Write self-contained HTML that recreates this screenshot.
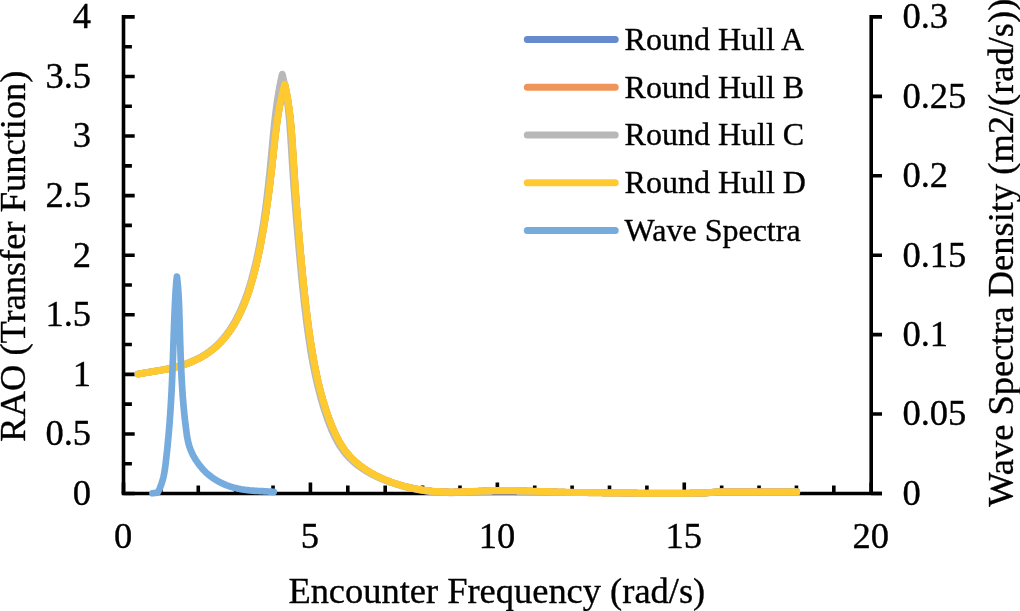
<!DOCTYPE html>
<html lang="en"><head><meta charset="utf-8"><title>RAO and Wave Spectra</title>
<style>html,body{margin:0;padding:0;background:#fff}svg{display:block}text{font-family:"Liberation Serif","Times New Roman",Times,serif;fill:#000;stroke:#000;stroke-width:0.35px}</style></head><body>
<svg width="1020" height="611" viewBox="0 0 1020 611">
<rect width="1020" height="611" fill="#fff"/>
<g stroke="#000" stroke-width="3.6" fill="none" stroke-linecap="butt">
<path d="M123.5,15.1 V493.5"/>
<path d="M871.2,15.1 V493.5"/>
<path d="M121.7,493.5 H882.0"/>
<path d="M123.5,493.50 h11.2 M123.5,463.71 h8.4 M123.5,433.93 h11.2 M123.5,404.14 h8.4 M123.5,374.35 h11.2 M123.5,344.56 h8.4 M123.5,314.77 h11.2 M123.5,284.99 h8.4 M123.5,255.20 h11.2 M123.5,225.41 h8.4 M123.5,195.62 h11.2 M123.5,165.84 h8.4 M123.5,136.05 h11.2 M123.5,106.26 h8.4 M123.5,76.47 h11.2 M123.5,46.69 h8.4 M123.5,16.90 h11.2 M871.2,493.50 h10.8 M871.2,414.07 h10.8 M871.2,334.63 h10.8 M871.2,255.20 h10.8 M871.2,175.77 h10.8 M871.2,96.33 h10.8 M871.2,16.90 h10.8 M123.50,493.5 v-11.0 M160.88,493.5 v-8.0 M198.27,493.5 v-8.0 M235.66,493.5 v-8.0 M273.04,493.5 v-8.0 M310.43,493.5 v-11.0 M347.81,493.5 v-8.0 M385.20,493.5 v-8.0 M422.58,493.5 v-8.0 M459.97,493.5 v-8.0 M497.35,493.5 v-11.0 M534.74,493.5 v-8.0 M572.12,493.5 v-8.0 M609.50,493.5 v-8.0 M646.89,493.5 v-8.0 M684.27,493.5 v-11.0 M721.66,493.5 v-8.0 M759.05,493.5 v-8.0 M796.43,493.5 v-8.0 M833.82,493.5 v-8.0 M871.20,493.5 v-11.0"/>
</g>
<g font-size="36.5" text-anchor="end">
<text x="91" y="504.8">0</text>
<text x="91" y="445.2">0.5</text>
<text x="91" y="385.7">1</text>
<text x="91" y="326.1">1.5</text>
<text x="91" y="266.5">2</text>
<text x="91" y="206.9">2.5</text>
<text x="91" y="147.3">3</text>
<text x="91" y="87.8">3.5</text>
<text x="91" y="28.2">4</text>
</g>
<g font-size="36.5" text-anchor="start">
<text x="902.4" y="504.8">0</text>
<text x="902.4" y="425.4">0.05</text>
<text x="902.4" y="345.9">0.1</text>
<text x="902.4" y="266.5">0.15</text>
<text x="902.4" y="187.1">0.2</text>
<text x="902.4" y="107.6">0.25</text>
<text x="902.4" y="28.2">0.3</text>
</g>
<g font-size="36.5" text-anchor="middle">
<text x="123.0" y="547.9">0</text>
<text x="309.9" y="547.9">5</text>
<text x="496.9" y="547.9">10</text>
<text x="683.8" y="547.9">15</text>
<text x="870.7" y="547.9">20</text>
</g>
<text font-size="36.45" text-anchor="middle" x="496.8" y="603">Encounter Frequency (rad/s)</text>
<text font-size="36.45" text-anchor="middle" transform="translate(25.3,256.1) rotate(-90)">RAO (Transfer Function)</text>
<text font-size="36.45" text-anchor="middle" transform="translate(1012.8,252.7) rotate(-90)">Wave Spectra Density (m2/(rad/s))</text>
<g fill="none" stroke-linecap="round" stroke-linejoin="round">
<path stroke="#668ACE" stroke-width="6.6" d="M138.5,374.0 L139.6,373.8 L140.8,373.6 L142.0,373.4 L143.2,373.2 L144.4,373.0 L145.6,372.8 L146.8,372.6 L148.0,372.4 L149.2,372.2 L150.3,372.0 L151.5,371.8 L152.7,371.6 L153.9,371.4 L155.1,371.2 L156.3,371.0 L157.5,370.8 L158.6,370.6 L159.8,370.4 L161.0,370.2 L162.2,370.0 L163.4,369.8 L164.5,369.6 L165.7,369.4 L166.9,369.1 L168.1,368.9 L169.2,368.7 L170.4,368.4 L171.6,368.1 L172.8,367.9 L173.9,367.6 L175.1,367.3 L176.3,367.0 L177.4,366.7 L178.6,366.4 L179.8,366.0 L180.9,365.7 L182.1,365.3 L183.2,365.0 L184.4,364.6 L185.6,364.2 L186.7,363.8 L187.9,363.3 L189.0,362.9 L190.1,362.5 L191.3,362.0 L192.4,361.5 L193.5,361.0 L194.6,360.5 L195.7,360.0 L196.8,359.5 L197.9,359.0 L199.0,358.4 L200.1,357.9 L201.1,357.3 L202.2,356.7 L203.3,356.1 L204.3,355.5 L205.3,354.8 L206.3,354.2 L207.3,353.5 L208.3,352.8 L209.3,352.2 L210.3,351.5 L211.3,350.7 L212.2,350.0 L213.1,349.3 L214.1,348.5 L215.0,347.7 L215.9,347.0 L216.8,346.2 L217.6,345.4 L218.5,344.5 L219.3,343.7 L220.2,342.9 L221.0,342.0 L221.8,341.1 L222.6,340.2 L223.4,339.4 L224.2,338.5 L224.9,337.5 L225.7,336.6 L226.4,335.7 L227.2,334.7 L227.9,333.8 L228.6,332.8 L229.3,331.8 L230.0,330.9 L230.7,329.9 L231.4,328.9 L232.0,327.9 L232.7,326.9 L233.3,325.8 L234.0,324.8 L234.6,323.8 L235.2,322.7 L235.8,321.7 L236.4,320.6 L237.0,319.6 L237.5,318.5 L238.1,317.4 L238.7,316.3 L239.2,315.2 L239.8,314.1 L240.3,313.0 L240.8,311.9 L241.3,310.8 L241.8,309.7 L242.3,308.6 L242.8,307.5 L243.3,306.4 L243.8,305.2 L244.2,304.1 L244.7,303.0 L245.1,301.8 L245.6,300.7 L246.0,299.6 L246.4,298.4 L246.9,297.3 L247.3,296.1 L247.7,295.0 L248.1,293.9 L248.5,292.7 L248.9,291.6 L249.2,290.4 L249.6,289.3 L250.0,288.1 L250.3,287.0 L250.7,285.8 L251.0,284.7 L251.4,283.5 L251.7,282.4 L252.0,281.2 L252.4,280.1 L252.7,278.9 L253.0,277.8 L253.3,276.6 L253.6,275.5 L253.9,274.3 L254.3,273.2 L254.6,272.0 L254.8,270.9 L255.1,269.7 L255.4,268.5 L255.7,267.4 L256.0,266.2 L256.3,265.0 L256.6,263.9 L256.8,262.7 L257.1,261.5 L257.4,260.4 L257.7,259.2 L257.9,258.0 L258.2,256.8 L258.4,255.7 L258.7,254.5 L258.9,253.3 L259.2,252.1 L259.4,250.9 L259.7,249.8 L259.9,248.6 L260.1,247.4 L260.4,246.2 L260.6,245.0 L260.8,243.8 L261.1,242.7 L261.3,241.5 L261.5,240.3 L261.7,239.1 L261.9,237.9 L262.1,236.7 L262.4,235.5 L262.6,234.3 L262.8,233.2 L263.0,232.0 L263.2,230.8 L263.4,229.6 L263.6,228.4 L263.8,227.2 L264.0,226.0 L264.2,224.8 L264.4,223.6 L264.6,222.4 L264.8,221.3 L265.0,220.1 L265.1,218.9 L265.3,217.7 L265.5,216.5 L265.7,215.3 L265.9,214.1 L266.1,212.9 L266.2,211.7 L266.4,210.5 L266.6,209.3 L266.8,208.1 L266.9,207.0 L267.1,205.8 L267.3,204.6 L267.5,203.4 L267.6,202.2 L267.8,201.0 L268.0,199.8 L268.1,198.6 L268.3,197.4 L268.4,196.2 L268.6,195.0 L268.8,193.8 L268.9,192.6 L269.1,191.4 L269.2,190.2 L269.4,189.0 L269.5,187.8 L269.7,186.6 L269.8,185.5 L270.0,184.3 L270.1,183.1 L270.3,181.9 L270.4,180.7 L270.6,179.5 L270.7,178.3 L270.8,177.1 L271.0,175.9 L271.1,174.7 L271.3,173.5 L271.4,172.3 L271.5,171.1 L271.7,169.9 L271.8,168.7 L271.9,167.5 L272.1,166.3 L272.2,165.1 L272.3,163.9 L272.5,162.7 L272.6,161.5 L272.7,160.3 L272.8,159.1 L273.0,157.9 L273.1,156.7 L273.2,155.5 L273.4,154.3 L273.5,153.1 L273.6,151.9 L273.7,150.7 L273.9,149.5 L274.0,148.3 L274.1,147.1 L274.2,145.9 L274.4,144.7 L274.5,143.5 L274.6,142.3 L274.8,141.1 L274.9,139.9 L275.0,138.7 L275.2,137.5 L275.3,136.3 L275.5,135.1 L275.6,133.9 L275.7,132.7 L275.9,131.5 L276.0,130.3 L276.2,129.1 L276.3,127.9 L276.5,126.7 L276.7,125.5 L276.8,124.4 L277.0,123.2 L277.1,122.0 L277.3,120.8 L277.5,119.6 L277.7,118.4 L277.8,117.2 L278.0,116.0 L278.2,114.8 L278.4,113.6 L278.6,112.4 L278.8,111.3 L279.0,110.1 L279.2,108.9 L279.4,107.7 L279.6,106.5 L279.9,105.3 L280.1,104.2 L280.3,103.0 L280.6,101.8 L280.8,100.6 L281.0,99.4 L281.3,98.3 L281.6,97.1 L281.8,95.9 L282.1,94.7 L282.4,93.6 L282.6,92.4 L282.9,91.2 L283.2,90.0 L283.5,88.9 L283.8,87.7 L284.2,86.5 L284.5,85.4 L284.8,84.2 L285.1,85.4 L285.3,86.6 L285.6,87.7 L285.8,88.9 L286.1,90.1 L286.3,91.3 L286.5,92.5 L286.8,93.6 L287.0,94.8 L287.2,96.0 L287.4,97.2 L287.6,98.4 L287.8,99.6 L288.0,100.7 L288.2,101.9 L288.4,103.1 L288.6,104.3 L288.7,105.5 L288.9,106.7 L289.1,107.9 L289.2,109.1 L289.4,110.3 L289.5,111.5 L289.7,112.6 L289.8,113.8 L290.0,115.0 L290.1,116.2 L290.2,117.4 L290.4,118.6 L290.5,119.8 L290.6,121.0 L290.7,122.2 L290.8,123.4 L291.0,124.6 L291.1,125.8 L291.2,127.0 L291.3,128.2 L291.4,129.4 L291.5,130.6 L291.6,131.8 L291.7,133.0 L291.8,134.2 L291.9,135.4 L291.9,136.6 L292.0,137.8 L292.1,139.0 L292.2,140.2 L292.3,141.4 L292.4,142.6 L292.5,143.8 L292.5,145.0 L292.6,146.2 L292.7,147.4 L292.8,148.6 L292.8,149.8 L292.9,151.0 L293.0,152.2 L293.1,153.4 L293.1,154.6 L293.2,155.8 L293.3,157.0 L293.4,158.2 L293.4,159.4 L293.5,160.6 L293.6,161.8 L293.7,163.0 L293.7,164.2 L293.8,165.4 L293.9,166.6 L294.0,167.8 L294.0,169.0 L294.1,170.2 L294.2,171.4 L294.3,172.6 L294.4,173.8 L294.4,175.0 L294.5,176.2 L294.6,177.4 L294.7,178.6 L294.8,179.8 L294.9,181.0 L294.9,182.2 L295.0,183.4 L295.1,184.6 L295.2,185.8 L295.3,187.0 L295.4,188.2 L295.5,189.4 L295.5,190.6 L295.6,191.8 L295.7,193.0 L295.8,194.2 L295.9,195.4 L296.0,196.6 L296.1,197.8 L296.2,199.0 L296.3,200.2 L296.3,201.4 L296.4,202.6 L296.5,203.8 L296.6,205.0 L296.7,206.2 L296.8,207.4 L296.9,208.6 L297.0,209.8 L297.1,211.0 L297.2,212.2 L297.3,213.4 L297.4,214.6 L297.5,215.8 L297.6,217.0 L297.7,218.2 L297.8,219.4 L297.9,220.6 L298.0,221.8 L298.1,223.0 L298.2,224.2 L298.3,225.4 L298.4,226.6 L298.5,227.8 L298.6,229.0 L298.7,230.2 L298.8,231.4 L298.9,232.6 L299.0,233.8 L299.1,235.0 L299.2,236.2 L299.3,237.4 L299.4,238.6 L299.5,239.8 L299.6,241.0 L299.7,242.1 L299.8,243.3 L299.9,244.5 L300.0,245.7 L300.1,246.9 L300.2,248.1 L300.3,249.3 L300.4,250.5 L300.5,251.7 L300.6,252.9 L300.7,254.1 L300.9,255.3 L301.0,256.5 L301.1,257.7 L301.2,258.9 L301.3,260.1 L301.4,261.3 L301.5,262.5 L301.6,263.7 L301.7,264.9 L301.9,266.1 L302.0,267.3 L302.1,268.5 L302.2,269.7 L302.3,270.9 L302.4,272.1 L302.5,273.3 L302.7,274.5 L302.8,275.7 L302.9,276.9 L303.0,278.1 L303.1,279.3 L303.2,280.5 L303.4,281.7 L303.5,282.9 L303.6,284.1 L303.7,285.3 L303.9,286.4 L304.0,287.6 L304.1,288.8 L304.2,290.0 L304.4,291.2 L304.5,292.4 L304.6,293.6 L304.7,294.8 L304.9,296.0 L305.0,297.2 L305.1,298.4 L305.3,299.6 L305.4,300.8 L305.5,302.0 L305.7,303.2 L305.8,304.4 L305.9,305.6 L306.1,306.8 L306.2,308.0 L306.4,309.2 L306.5,310.4 L306.6,311.6 L306.8,312.7 L306.9,313.9 L307.1,315.1 L307.2,316.3 L307.4,317.5 L307.5,318.7 L307.7,319.9 L307.8,321.1 L308.0,322.3 L308.1,323.5 L308.3,324.7 L308.4,325.9 L308.6,327.1 L308.8,328.3 L308.9,329.5 L309.1,330.6 L309.3,331.8 L309.4,333.0 L309.6,334.2 L309.8,335.4 L309.9,336.6 L310.1,337.8 L310.3,339.0 L310.5,340.2 L310.6,341.4 L310.8,342.6 L311.0,343.7 L311.2,344.9 L311.4,346.1 L311.6,347.3 L311.8,348.5 L312.0,349.7 L312.2,350.9 L312.3,352.0 L312.6,353.2 L312.8,354.4 L313.0,355.6 L313.2,356.8 L313.4,358.0 L313.6,359.2 L313.8,360.3 L314.0,361.5 L314.2,362.7 L314.5,363.9 L314.7,365.1 L314.9,366.2 L315.2,367.4 L315.4,368.6 L315.6,369.8 L315.9,371.0 L316.1,372.1 L316.4,373.3 L316.6,374.5 L316.9,375.7 L317.1,376.8 L317.4,378.0 L317.6,379.2 L317.9,380.3 L318.2,381.5 L318.4,382.7 L318.7,383.9 L319.0,385.0 L319.3,386.2 L319.6,387.4 L319.9,388.5 L320.2,389.7 L320.5,390.8 L320.8,392.0 L321.1,393.2 L321.4,394.3 L321.7,395.5 L322.0,396.6 L322.4,397.8 L322.7,399.0 L323.0,400.1 L323.4,401.3 L323.7,402.4 L324.1,403.6 L324.4,404.7 L324.8,405.9 L325.1,407.0 L325.5,408.2 L325.9,409.3 L326.2,410.5 L326.6,411.6 L327.0,412.7 L327.4,413.9 L327.8,415.0 L328.2,416.2 L328.6,417.3 L329.0,418.4 L329.4,419.6 L329.9,420.7 L330.3,421.8 L330.7,423.0 L331.2,424.1 L331.6,425.2 L332.1,426.3 L332.5,427.5 L333.0,428.6 L333.5,429.7 L334.0,430.8 L334.5,431.9 L335.0,433.0 L335.5,434.1 L336.0,435.2 L336.5,436.3 L337.1,437.3 L337.6,438.4 L338.2,439.5 L338.8,440.5 L339.3,441.6 L339.9,442.6 L340.6,443.6 L341.2,444.6 L341.8,445.7 L342.5,446.7 L343.1,447.7 L343.8,448.6 L344.5,449.6 L345.2,450.6 L345.9,451.5 L346.7,452.5 L347.4,453.4 L348.2,454.3 L349.0,455.2 L349.8,456.1 L350.6,457.0 L351.4,457.8 L352.2,458.7 L353.1,459.5 L354.0,460.4 L354.8,461.2 L355.7,462.0 L356.6,462.8 L357.6,463.5 L358.5,464.3 L359.4,465.1 L360.4,465.8 L361.4,466.5 L362.3,467.2 L363.3,467.9 L364.3,468.6 L365.3,469.3 L366.3,469.9 L367.4,470.6 L368.4,471.2 L369.4,471.8 L370.5,472.5 L371.5,473.1 L372.6,473.7 L373.6,474.2 L374.7,474.8 L375.7,475.4 L376.8,475.9 L377.9,476.4 L379.0,477.0 L380.1,477.5 L381.2,478.0 L382.3,478.5 L383.4,479.0 L384.5,479.4 L385.6,479.9 L386.7,480.4 L387.9,480.8 L389.0,481.2 L390.1,481.7 L391.2,482.1 L392.4,482.5 L393.5,482.9 L394.7,483.3 L395.8,483.7 L397.0,484.0 L398.1,484.4 L399.3,484.7 L400.4,485.1 L401.6,485.4 L402.7,485.8 L403.9,486.1 L405.1,486.4 L406.2,486.7 L407.4,487.0 L408.6,487.3 L409.7,487.5 L410.9,487.8 L412.1,488.1 L413.3,488.3 L414.4,488.6 L415.6,488.8 L416.8,489.0 L418.0,489.2 L419.2,489.4 L420.3,489.6 L421.5,489.8 L422.7,490.0 L423.9,490.2 L425.1,490.3 L426.3,490.5 L427.5,490.6 L428.7,490.8 L429.8,490.9 L431.0,491.0 L432.2,491.2 L433.4,491.3 L434.6,491.4 L435.8,491.5 L437.0,491.5 L438.2,491.6 L439.4,491.7 L440.6,491.7 L441.8,491.8 L443.0,491.8 L444.2,491.9 L445.4,491.9 L446.6,491.9 L447.8,491.9 L449.0,492.0 L450.2,492.0 L451.4,492.0 L452.6,492.0 L453.8,492.0 L455.0,491.9 L456.2,491.9 L457.4,491.9 L458.6,491.9 L459.8,491.9 L461.0,491.8 L462.2,491.8 L463.4,491.8 L464.6,491.7 L465.8,491.7 L467.0,491.6 L468.2,491.6 L469.4,491.5 L470.6,491.5 L471.9,491.4 L473.1,491.4 L474.3,491.3 L475.5,491.3 L476.7,491.2 L477.9,491.2 L479.1,491.1 L480.3,491.1 L481.5,491.0 L482.7,491.0 L483.9,490.9 L485.1,490.9 L486.3,490.8 L487.5,490.8 L488.7,490.7 L489.9,490.7 L491.1,490.7 L492.3,490.6 L493.5,490.6 L494.7,490.6 L496.0,490.5 L497.2,490.5 L498.4,490.5 L499.6,490.5 L500.8,490.5 L502.0,490.5 L503.2,490.5 L504.4,490.5 L505.6,490.5 L506.8,490.5 L508.0,490.5 L509.2,490.5 L510.4,490.5 L511.6,490.5 L512.8,490.6 L514.0,490.6 L515.2,490.6 L516.4,490.6 L517.6,490.7 L518.8,490.7 L520.0,490.7 L521.2,490.8 L522.4,490.8 L523.6,490.8 L524.8,490.9 L526.0,490.9 L527.2,491.0 L528.4,491.0 L529.6,491.0 L530.8,491.1 L532.0,491.1 L533.2,491.2 L534.4,491.2 L535.6,491.3 L536.8,491.3 L538.0,491.3 L539.2,491.4 L540.4,491.4 L541.6,491.5 L542.8,491.5 L544.0,491.6 L545.2,491.6 L546.4,491.6 L547.6,491.7 L548.8,491.7 L550.0,491.7 L551.2,491.8 L552.4,491.8 L553.6,491.9 L554.9,491.9 L556.1,491.9 L557.3,492.0 L558.5,492.0 L559.7,492.0 L560.9,492.1 L562.1,492.1 L563.3,492.1 L564.5,492.1 L565.7,492.2 L566.9,492.2 L568.1,492.2 L569.3,492.3 L570.5,492.3 L571.7,492.3 L572.9,492.3 L574.1,492.4 L575.3,492.4 L576.5,492.4 L577.7,492.5 L578.9,492.5 L580.1,492.5 L581.3,492.5 L582.5,492.5 L583.7,492.6 L584.9,492.6 L586.1,492.6 L587.3,492.6 L588.5,492.7 L589.7,492.7 L590.9,492.7 L592.1,492.7 L593.3,492.7 L594.5,492.7 L595.7,492.8 L596.9,492.8 L598.1,492.8 L599.3,492.8 L600.5,492.8 L601.8,492.8 L603.0,492.9 L604.2,492.9 L605.4,492.9 L606.6,492.9 L607.8,492.9 L609.0,492.9 L610.2,492.9 L611.4,493.0 L612.6,493.0 L613.8,493.0 L615.0,493.0 L616.2,493.0 L617.4,493.0 L618.6,493.0 L619.8,493.0 L621.0,493.0 L622.2,493.1 L623.4,493.1 L624.6,493.1 L625.8,493.1 L627.0,493.1 L628.2,493.1 L629.4,493.1 L630.6,493.1 L631.8,493.1 L633.0,493.1 L634.2,493.1 L635.4,493.1 L636.6,493.1 L637.8,493.2 L639.0,493.2 L640.3,493.2 L641.5,493.2 L642.7,493.2 L643.9,493.2 L645.1,493.2 L646.3,493.2 L647.5,493.2 L648.7,493.2 L649.9,493.2 L651.1,493.2 L652.3,493.2 L653.5,493.2 L654.7,493.2 L655.9,493.2 L657.1,493.2 L658.3,493.2 L659.5,493.2 L660.7,493.2 L661.9,493.2 L663.1,493.2 L664.3,493.2 L665.5,493.2 L666.7,493.2 L667.9,493.2 L669.1,493.2 L670.3,493.2 L671.5,493.2 L672.7,493.2 L673.9,493.2 L675.1,493.2 L676.3,493.2 L677.5,493.2 L678.7,493.2 L680.0,493.2 L681.2,493.2 L682.4,493.2 L683.6,493.2 L684.8,493.2 L686.0,493.2 L687.2,493.2 L688.4,493.2 L689.6,493.2 L690.8,493.1 L692.0,493.1 L693.2,493.1 L694.4,493.1 L695.6,493.1 L696.8,493.1 L698.0,493.1 L699.2,493.1 L700.4,493.1 L701.6,493.1 L702.8,493.1 L704.0,493.1 L717.0,491.9 L751.0,491.9 L796.7,491.9"/>
<path stroke="#F0955A" stroke-width="6.6" d="M138.5,374.0 L139.6,373.8 L140.8,373.6 L142.0,373.4 L143.2,373.2 L144.4,373.0 L145.6,372.8 L146.8,372.6 L148.0,372.4 L149.2,372.2 L150.3,372.0 L151.5,371.8 L152.7,371.6 L153.9,371.4 L155.1,371.2 L156.3,371.0 L157.5,370.8 L158.6,370.6 L159.8,370.4 L161.0,370.2 L162.2,370.0 L163.4,369.8 L164.5,369.6 L165.7,369.4 L166.9,369.1 L168.1,368.9 L169.2,368.7 L170.4,368.4 L171.6,368.1 L172.8,367.9 L173.9,367.6 L175.1,367.3 L176.3,367.0 L177.4,366.7 L178.6,366.4 L179.8,366.0 L180.9,365.7 L182.1,365.3 L183.2,365.0 L184.4,364.6 L185.6,364.2 L186.7,363.8 L187.9,363.3 L189.0,362.9 L190.1,362.5 L191.3,362.0 L192.4,361.5 L193.5,361.0 L194.6,360.5 L195.7,360.0 L196.8,359.5 L197.9,359.0 L199.0,358.4 L200.1,357.9 L201.1,357.3 L202.2,356.7 L203.3,356.1 L204.3,355.5 L205.3,354.8 L206.3,354.2 L207.3,353.5 L208.3,352.8 L209.3,352.2 L210.3,351.5 L211.3,350.7 L212.2,350.0 L213.1,349.3 L214.1,348.5 L215.0,347.7 L215.9,347.0 L216.8,346.2 L217.6,345.4 L218.5,344.5 L219.3,343.7 L220.2,342.9 L221.0,342.0 L221.8,341.1 L222.6,340.2 L223.4,339.4 L224.2,338.5 L224.9,337.5 L225.7,336.6 L226.4,335.7 L227.2,334.7 L227.9,333.8 L228.6,332.8 L229.3,331.8 L230.0,330.9 L230.7,329.9 L231.4,328.9 L232.0,327.9 L232.7,326.9 L233.3,325.8 L234.0,324.8 L234.6,323.8 L235.2,322.7 L235.8,321.7 L236.4,320.6 L237.0,319.6 L237.5,318.5 L238.1,317.4 L238.7,316.3 L239.2,315.2 L239.8,314.1 L240.3,313.0 L240.8,311.9 L241.3,310.8 L241.8,309.7 L242.3,308.6 L242.8,307.5 L243.3,306.4 L243.8,305.2 L244.2,304.1 L244.7,303.0 L245.1,301.8 L245.6,300.7 L246.0,299.6 L246.4,298.4 L246.9,297.3 L247.3,296.1 L247.7,295.0 L248.1,293.9 L248.5,292.7 L248.9,291.6 L249.2,290.4 L249.6,289.3 L250.0,288.1 L250.3,287.0 L250.7,285.8 L251.0,284.7 L251.4,283.5 L251.7,282.4 L252.0,281.2 L252.4,280.1 L252.7,278.9 L253.0,277.8 L253.3,276.6 L253.6,275.5 L253.9,274.3 L254.3,273.2 L254.6,272.0 L254.8,270.9 L255.1,269.7 L255.4,268.5 L255.7,267.4 L256.0,266.2 L256.3,265.0 L256.6,263.9 L256.8,262.7 L257.1,261.5 L257.4,260.4 L257.7,259.2 L257.9,258.0 L258.2,256.8 L258.4,255.7 L258.7,254.5 L258.9,253.3 L259.2,252.1 L259.4,250.9 L259.7,249.8 L259.9,248.6 L260.1,247.4 L260.4,246.2 L260.6,245.0 L260.8,243.8 L261.1,242.7 L261.3,241.5 L261.5,240.3 L261.7,239.1 L261.9,237.9 L262.1,236.7 L262.4,235.5 L262.6,234.3 L262.8,233.2 L263.0,232.0 L263.2,230.8 L263.4,229.6 L263.6,228.4 L263.8,227.2 L264.0,226.0 L264.2,224.8 L264.4,223.6 L264.6,222.4 L264.8,221.3 L265.0,220.1 L265.1,218.9 L265.3,217.7 L265.5,216.5 L265.7,215.3 L265.9,214.1 L266.1,212.9 L266.2,211.7 L266.4,210.5 L266.6,209.3 L266.8,208.1 L266.9,207.0 L267.1,205.8 L267.3,204.6 L267.5,203.4 L267.6,202.2 L267.8,201.0 L268.0,199.8 L268.1,198.6 L268.3,197.4 L268.4,196.2 L268.6,195.0 L268.8,193.8 L268.9,192.6 L269.1,191.4 L269.2,190.2 L269.4,189.0 L269.5,187.8 L269.7,186.6 L269.8,185.5 L270.0,184.3 L270.1,183.1 L270.3,181.9 L270.4,180.7 L270.6,179.5 L270.7,178.3 L270.8,177.1 L271.0,175.9 L271.1,174.7 L271.3,173.5 L271.4,172.3 L271.5,171.1 L271.7,169.9 L271.8,168.7 L271.9,167.5 L272.1,166.3 L272.2,165.1 L272.3,163.9 L272.5,162.7 L272.6,161.5 L272.7,160.3 L272.8,159.1 L273.0,157.9 L273.1,156.7 L273.2,155.5 L273.4,154.3 L273.5,153.1 L273.6,151.9 L273.7,150.7 L273.9,149.5 L274.0,148.3 L274.1,147.1 L274.2,145.9 L274.4,144.7 L274.5,143.5 L274.6,142.3 L274.8,141.1 L274.9,139.9 L275.0,138.7 L275.2,137.5 L275.3,136.3 L275.5,135.1 L275.6,133.9 L275.7,132.7 L275.9,131.5 L276.0,130.3 L276.2,129.1 L276.3,127.9 L276.5,126.7 L276.7,125.5 L276.8,124.4 L277.0,123.2 L277.1,122.0 L277.3,120.8 L277.5,119.6 L277.7,118.4 L277.8,117.2 L278.0,116.0 L278.2,114.8 L278.4,113.6 L278.6,112.4 L278.8,111.3 L279.0,110.1 L279.2,108.9 L279.4,107.7 L279.6,106.5 L279.9,105.3 L280.1,104.2 L280.3,103.0 L280.6,101.8 L280.8,100.6 L281.0,99.4 L281.3,98.3 L281.6,97.1 L281.8,95.9 L282.1,94.7 L282.4,93.6 L282.6,92.4 L282.9,91.2 L283.2,90.0 L283.5,88.9 L283.8,87.7 L284.2,86.5 L284.5,85.4 L284.8,84.2 L285.1,85.4 L285.3,86.6 L285.6,87.7 L285.8,88.9 L286.1,90.1 L286.3,91.3 L286.5,92.5 L286.8,93.6 L287.0,94.8 L287.2,96.0 L287.4,97.2 L287.6,98.4 L287.8,99.6 L288.0,100.7 L288.2,101.9 L288.4,103.1 L288.6,104.3 L288.7,105.5 L288.9,106.7 L289.1,107.9 L289.2,109.1 L289.4,110.3 L289.5,111.5 L289.7,112.6 L289.8,113.8 L290.0,115.0 L290.1,116.2 L290.2,117.4 L290.4,118.6 L290.5,119.8 L290.6,121.0 L290.7,122.2 L290.8,123.4 L291.0,124.6 L291.1,125.8 L291.2,127.0 L291.3,128.2 L291.4,129.4 L291.5,130.6 L291.6,131.8 L291.7,133.0 L291.8,134.2 L291.9,135.4 L291.9,136.6 L292.0,137.8 L292.1,139.0 L292.2,140.2 L292.3,141.4 L292.4,142.6 L292.5,143.8 L292.5,145.0 L292.6,146.2 L292.7,147.4 L292.8,148.6 L292.8,149.8 L292.9,151.0 L293.0,152.2 L293.1,153.4 L293.1,154.6 L293.2,155.8 L293.3,157.0 L293.4,158.2 L293.4,159.4 L293.5,160.6 L293.6,161.8 L293.7,163.0 L293.7,164.2 L293.8,165.4 L293.9,166.6 L294.0,167.8 L294.0,169.0 L294.1,170.2 L294.2,171.4 L294.3,172.6 L294.4,173.8 L294.4,175.0 L294.5,176.2 L294.6,177.4 L294.7,178.6 L294.8,179.8 L294.9,181.0 L294.9,182.2 L295.0,183.4 L295.1,184.6 L295.2,185.8 L295.3,187.0 L295.4,188.2 L295.5,189.4 L295.5,190.6 L295.6,191.8 L295.7,193.0 L295.8,194.2 L295.9,195.4 L296.0,196.6 L296.1,197.8 L296.2,199.0 L296.3,200.2 L296.3,201.4 L296.4,202.6 L296.5,203.8 L296.6,205.0 L296.7,206.2 L296.8,207.4 L296.9,208.6 L297.0,209.8 L297.1,211.0 L297.2,212.2 L297.3,213.4 L297.4,214.6 L297.5,215.8 L297.6,217.0 L297.7,218.2 L297.8,219.4 L297.9,220.6 L298.0,221.8 L298.1,223.0 L298.2,224.2 L298.3,225.4 L298.4,226.6 L298.5,227.8 L298.6,229.0 L298.7,230.2 L298.8,231.4 L298.9,232.6 L299.0,233.8 L299.1,235.0 L299.2,236.2 L299.3,237.4 L299.4,238.6 L299.5,239.8 L299.6,241.0 L299.7,242.1 L299.8,243.3 L299.9,244.5 L300.0,245.7 L300.1,246.9 L300.2,248.1 L300.3,249.3 L300.4,250.5 L300.5,251.7 L300.6,252.9 L300.7,254.1 L300.9,255.3 L301.0,256.5 L301.1,257.7 L301.2,258.9 L301.3,260.1 L301.4,261.3 L301.5,262.5 L301.6,263.7 L301.7,264.9 L301.9,266.1 L302.0,267.3 L302.1,268.5 L302.2,269.7 L302.3,270.9 L302.4,272.1 L302.5,273.3 L302.7,274.5 L302.8,275.7 L302.9,276.9 L303.0,278.1 L303.1,279.3 L303.2,280.5 L303.4,281.7 L303.5,282.9 L303.6,284.1 L303.7,285.3 L303.9,286.4 L304.0,287.6 L304.1,288.8 L304.2,290.0 L304.4,291.2 L304.5,292.4 L304.6,293.6 L304.7,294.8 L304.9,296.0 L305.0,297.2 L305.1,298.4 L305.3,299.6 L305.4,300.8 L305.5,302.0 L305.7,303.2 L305.8,304.4 L305.9,305.6 L306.1,306.8 L306.2,308.0 L306.4,309.2 L306.5,310.4 L306.6,311.6 L306.8,312.7 L306.9,313.9 L307.1,315.1 L307.2,316.3 L307.4,317.5 L307.5,318.7 L307.7,319.9 L307.8,321.1 L308.0,322.3 L308.1,323.5 L308.3,324.7 L308.4,325.9 L308.6,327.1 L308.8,328.3 L308.9,329.5 L309.1,330.6 L309.3,331.8 L309.4,333.0 L309.6,334.2 L309.8,335.4 L309.9,336.6 L310.1,337.8 L310.3,339.0 L310.5,340.2 L310.6,341.4 L310.8,342.6 L311.0,343.7 L311.2,344.9 L311.4,346.1 L311.6,347.3 L311.8,348.5 L312.0,349.7 L312.2,350.9 L312.3,352.0 L312.6,353.2 L312.8,354.4 L313.0,355.6 L313.2,356.8 L313.4,358.0 L313.6,359.2 L313.8,360.3 L314.0,361.5 L314.2,362.7 L314.5,363.9 L314.7,365.1 L314.9,366.2 L315.2,367.4 L315.4,368.6 L315.6,369.8 L315.9,371.0 L316.1,372.1 L316.4,373.3 L316.6,374.5 L316.9,375.7 L317.1,376.8 L317.4,378.0 L317.6,379.2 L317.9,380.3 L318.2,381.5 L318.4,382.7 L318.7,383.9 L319.0,385.0 L319.3,386.2 L319.6,387.4 L319.9,388.5 L320.2,389.7 L320.5,390.8 L320.8,392.0 L321.1,393.2 L321.4,394.3 L321.7,395.5 L322.0,396.6 L322.4,397.8 L322.7,399.0 L323.0,400.1 L323.4,401.3 L323.7,402.4 L324.1,403.6 L324.4,404.7 L324.8,405.9 L325.1,407.0 L325.5,408.2 L325.9,409.3 L326.2,410.5 L326.6,411.6 L327.0,412.7 L327.4,413.9 L327.8,415.0 L328.2,416.2 L328.6,417.3 L329.0,418.4 L329.4,419.6 L329.9,420.7 L330.3,421.8 L330.7,423.0 L331.2,424.1 L331.6,425.2 L332.1,426.3 L332.5,427.5 L333.0,428.6 L333.5,429.7 L334.0,430.8 L334.5,431.9 L335.0,433.0 L335.5,434.1 L336.0,435.2 L336.5,436.3 L337.1,437.3 L337.6,438.4 L338.2,439.5 L338.8,440.5 L339.3,441.6 L339.9,442.6 L340.6,443.6 L341.2,444.6 L341.8,445.7 L342.5,446.7 L343.1,447.7 L343.8,448.6 L344.5,449.6 L345.2,450.6 L345.9,451.5 L346.7,452.5 L347.4,453.4 L348.2,454.3 L349.0,455.2 L349.8,456.1 L350.6,457.0 L351.4,457.8 L352.2,458.7 L353.1,459.5 L354.0,460.4 L354.8,461.2 L355.7,462.0 L356.6,462.8 L357.6,463.5 L358.5,464.3 L359.4,465.1 L360.4,465.8 L361.4,466.5 L362.3,467.2 L363.3,467.9 L364.3,468.6 L365.3,469.3 L366.3,469.9 L367.4,470.6 L368.4,471.2 L369.4,471.8 L370.5,472.5 L371.5,473.1 L372.6,473.7 L373.6,474.2 L374.7,474.8 L375.7,475.4 L376.8,475.9 L377.9,476.4 L379.0,477.0 L380.1,477.5 L381.2,478.0 L382.3,478.5 L383.4,479.0 L384.5,479.4 L385.6,479.9 L386.7,480.4 L387.9,480.8 L389.0,481.2 L390.1,481.7 L391.2,482.1 L392.4,482.5 L393.5,482.9 L394.7,483.3 L395.8,483.7 L397.0,484.0 L398.1,484.4 L399.3,484.7 L400.4,485.1 L401.6,485.4 L402.7,485.8 L403.9,486.1 L405.1,486.4 L406.2,486.7 L407.4,487.0 L408.6,487.3 L409.7,487.5 L410.9,487.8 L412.1,488.1 L413.3,488.3 L414.4,488.6 L415.6,488.8 L416.8,489.0 L418.0,489.2 L419.2,489.4 L420.3,489.6 L421.5,489.8 L422.7,490.0 L423.9,490.2 L425.1,490.3 L426.3,490.5 L427.5,490.6 L428.7,490.8 L429.8,490.9 L431.0,491.0 L432.2,491.2 L433.4,491.3 L434.6,491.4 L435.8,491.5 L437.0,491.5 L438.2,491.6 L439.4,491.7 L440.6,491.7 L441.8,491.8 L443.0,491.8 L444.2,491.9 L445.4,491.9 L446.6,491.9 L447.8,491.9 L449.0,492.0 L450.2,492.0 L451.4,492.0 L452.6,492.0 L453.8,492.0 L455.0,491.9 L456.2,491.9 L457.4,491.9 L458.6,491.9 L459.8,491.9 L461.0,491.8 L462.2,491.8 L463.4,491.8 L464.6,491.7 L465.8,491.7 L467.0,491.6 L468.2,491.6 L469.4,491.5 L470.6,491.5 L471.9,491.4 L473.1,491.4 L474.3,491.3 L475.5,491.3 L476.7,491.2 L477.9,491.2 L479.1,491.1 L480.3,491.1 L481.5,491.0 L482.7,491.0 L483.9,490.9 L485.1,490.9 L486.3,490.8 L487.5,490.8 L488.7,490.7 L489.9,490.7 L491.1,490.7 L492.3,490.6 L493.5,490.6 L494.7,490.6 L496.0,490.5 L497.2,490.5 L498.4,490.5 L499.6,490.5 L500.8,490.5 L502.0,490.5 L503.2,490.5 L504.4,490.5 L505.6,490.5 L506.8,490.5 L508.0,490.5 L509.2,490.5 L510.4,490.5 L511.6,490.5 L512.8,490.6 L514.0,490.6 L515.2,490.6 L516.4,490.6 L517.6,490.7 L518.8,490.7 L520.0,490.7 L521.2,490.8 L522.4,490.8 L523.6,490.8 L524.8,490.9 L526.0,490.9 L527.2,491.0 L528.4,491.0 L529.6,491.0 L530.8,491.1 L532.0,491.1 L533.2,491.2 L534.4,491.2 L535.6,491.3 L536.8,491.3 L538.0,491.3 L539.2,491.4 L540.4,491.4 L541.6,491.5 L542.8,491.5 L544.0,491.6 L545.2,491.6 L546.4,491.6 L547.6,491.7 L548.8,491.7 L550.0,491.7 L551.2,491.8 L552.4,491.8 L553.6,491.9 L554.9,491.9 L556.1,491.9 L557.3,492.0 L558.5,492.0 L559.7,492.0 L560.9,492.1 L562.1,492.1 L563.3,492.1 L564.5,492.1 L565.7,492.2 L566.9,492.2 L568.1,492.2 L569.3,492.3 L570.5,492.3 L571.7,492.3 L572.9,492.3 L574.1,492.4 L575.3,492.4 L576.5,492.4 L577.7,492.5 L578.9,492.5 L580.1,492.5 L581.3,492.5 L582.5,492.5 L583.7,492.6 L584.9,492.6 L586.1,492.6 L587.3,492.6 L588.5,492.7 L589.7,492.7 L590.9,492.7 L592.1,492.7 L593.3,492.7 L594.5,492.7 L595.7,492.8 L596.9,492.8 L598.1,492.8 L599.3,492.8 L600.5,492.8 L601.8,492.8 L603.0,492.9 L604.2,492.9 L605.4,492.9 L606.6,492.9 L607.8,492.9 L609.0,492.9 L610.2,492.9 L611.4,493.0 L612.6,493.0 L613.8,493.0 L615.0,493.0 L616.2,493.0 L617.4,493.0 L618.6,493.0 L619.8,493.0 L621.0,493.0 L622.2,493.1 L623.4,493.1 L624.6,493.1 L625.8,493.1 L627.0,493.1 L628.2,493.1 L629.4,493.1 L630.6,493.1 L631.8,493.1 L633.0,493.1 L634.2,493.1 L635.4,493.1 L636.6,493.1 L637.8,493.2 L639.0,493.2 L640.3,493.2 L641.5,493.2 L642.7,493.2 L643.9,493.2 L645.1,493.2 L646.3,493.2 L647.5,493.2 L648.7,493.2 L649.9,493.2 L651.1,493.2 L652.3,493.2 L653.5,493.2 L654.7,493.2 L655.9,493.2 L657.1,493.2 L658.3,493.2 L659.5,493.2 L660.7,493.2 L661.9,493.2 L663.1,493.2 L664.3,493.2 L665.5,493.2 L666.7,493.2 L667.9,493.2 L669.1,493.2 L670.3,493.2 L671.5,493.2 L672.7,493.2 L673.9,493.2 L675.1,493.2 L676.3,493.2 L677.5,493.2 L678.7,493.2 L680.0,493.2 L681.2,493.2 L682.4,493.2 L683.6,493.2 L684.8,493.2 L686.0,493.2 L687.2,493.2 L688.4,493.2 L689.6,493.2 L690.8,493.1 L692.0,493.1 L693.2,493.1 L694.4,493.1 L695.6,493.1 L696.8,493.1 L698.0,493.1 L699.2,493.1 L700.4,493.1 L701.6,493.1 L702.8,493.1 L704.0,493.1 L717.0,491.9 L751.0,491.9 L796.7,491.9"/>
<path stroke="#B8B8B8" stroke-width="7" d="M137.9,374.0 L139.1,373.8 L140.3,373.6 L141.5,373.4 L142.7,373.2 L143.9,373.0 L145.1,372.8 L146.2,372.6 L147.4,372.4 L148.6,372.2 L149.8,372.0 L151.0,371.8 L152.1,371.6 L153.3,371.4 L154.5,371.2 L155.7,371.0 L156.9,370.8 L158.0,370.6 L159.2,370.4 L160.4,370.2 L161.6,370.0 L162.7,369.8 L163.9,369.6 L165.1,369.4 L166.2,369.1 L167.4,368.9 L168.6,368.7 L169.8,368.4 L170.9,368.1 L172.1,367.9 L173.3,367.6 L174.4,367.3 L175.6,367.0 L176.7,366.7 L177.9,366.4 L179.1,366.0 L180.2,365.7 L181.4,365.3 L182.5,365.0 L183.7,364.6 L184.8,364.2 L186.0,363.8 L187.1,363.3 L188.3,362.9 L189.4,362.5 L190.5,362.0 L191.6,361.5 L192.7,361.0 L193.8,360.5 L195.0,360.0 L196.0,359.5 L197.1,359.0 L198.2,358.4 L199.3,357.9 L200.3,357.3 L201.4,356.7 L202.4,356.1 L203.5,355.5 L204.5,354.8 L205.5,354.2 L206.5,353.5 L207.5,352.8 L208.5,352.2 L209.5,351.5 L210.4,350.7 L211.4,350.0 L212.3,349.3 L213.2,348.5 L214.1,347.7 L215.0,347.0 L215.9,346.2 L216.7,345.4 L217.6,344.5 L218.4,343.7 L219.3,342.9 L220.1,342.0 L220.9,341.1 L221.7,340.2 L222.5,339.4 L223.3,338.5 L224.0,337.5 L224.8,336.6 L225.5,335.7 L226.3,334.7 L227.0,333.8 L227.7,332.8 L228.4,331.8 L229.1,330.9 L229.8,329.9 L230.4,328.9 L231.1,327.9 L231.7,326.9 L232.4,325.8 L233.0,324.8 L233.6,323.8 L234.2,322.7 L234.8,321.7 L235.4,320.6 L236.0,319.6 L236.6,318.5 L237.1,317.4 L237.7,316.3 L238.2,315.2 L238.8,314.1 L239.3,313.0 L239.8,311.9 L240.3,310.8 L240.8,309.7 L241.3,308.6 L241.8,307.5 L242.3,306.4 L242.8,305.2 L243.2,304.1 L243.7,303.0 L244.1,301.8 L244.6,300.7 L245.0,299.6 L245.4,298.4 L245.9,297.3 L246.3,296.1 L246.7,295.0 L247.1,293.9 L247.5,292.7 L247.9,291.6 L248.2,290.4 L248.6,289.3 L249.0,288.1 L249.3,287.0 L249.7,285.8 L250.0,284.7 L250.4,283.5 L250.7,282.4 L251.0,281.2 L251.4,280.1 L251.7,278.9 L252.0,277.8 L252.3,276.6 L252.6,275.5 L252.9,274.3 L253.3,273.2 L253.6,272.0 L253.8,270.8 L254.1,269.7 L254.4,268.5 L254.7,267.4 L255.0,266.2 L255.3,265.0 L255.6,263.9 L255.8,262.7 L256.1,261.5 L256.4,260.3 L256.7,259.2 L256.9,258.0 L257.2,256.8 L257.4,255.6 L257.7,254.4 L257.9,253.3 L258.2,252.1 L258.4,250.9 L258.7,249.7 L258.9,248.5 L259.1,247.3 L259.4,246.1 L259.6,244.9 L259.8,243.7 L260.1,242.6 L260.3,241.4 L260.5,240.2 L260.7,239.0 L260.9,237.8 L261.1,236.6 L261.4,235.4 L261.6,234.2 L261.8,233.0 L262.0,231.8 L262.2,230.6 L262.4,229.4 L262.6,228.2 L262.8,227.0 L263.0,225.8 L263.2,224.6 L263.4,223.4 L263.6,222.2 L263.8,221.0 L264.0,219.8 L264.1,218.6 L264.3,217.4 L264.5,216.2 L264.6,215.0 L264.8,213.7 L265.0,212.5 L265.1,211.3 L265.3,210.1 L265.5,208.9 L265.6,207.7 L265.8,206.5 L265.9,205.3 L266.1,204.0 L266.3,202.8 L266.4,201.6 L266.6,200.4 L266.7,199.2 L266.9,198.0 L267.0,196.7 L267.2,195.5 L267.3,194.3 L267.5,193.1 L267.6,191.8 L267.7,190.6 L267.9,189.4 L268.0,188.2 L268.2,186.9 L268.3,185.7 L268.4,184.5 L268.6,183.2 L268.7,182.0 L268.8,180.8 L269.0,179.5 L269.1,178.3 L269.2,177.0 L269.4,175.8 L269.5,174.6 L269.6,173.3 L269.8,172.1 L269.9,170.8 L270.0,169.6 L270.1,168.3 L270.3,167.1 L270.4,165.8 L270.5,164.6 L270.6,163.3 L270.7,162.1 L270.9,160.8 L271.0,159.5 L271.1,158.3 L271.2,157.0 L271.3,155.7 L271.5,154.5 L271.6,153.2 L271.7,151.9 L271.8,150.7 L271.9,149.4 L272.0,148.1 L272.2,146.8 L272.3,145.6 L272.4,144.3 L272.5,143.0 L272.6,141.7 L272.7,140.4 L272.9,139.2 L273.0,137.9 L273.1,136.6 L273.2,135.3 L273.4,134.0 L273.5,132.7 L273.6,131.4 L273.8,130.1 L273.9,128.8 L274.0,127.5 L274.2,126.2 L274.3,124.9 L274.4,123.6 L274.6,122.3 L274.7,121.0 L274.9,119.7 L275.0,118.4 L275.2,117.1 L275.3,115.7 L275.5,114.4 L275.7,113.1 L275.8,111.8 L276.0,110.5 L276.2,109.1 L276.4,107.8 L276.5,106.5 L276.7,105.2 L276.9,103.8 L277.1,102.5 L277.3,101.2 L277.5,99.8 L277.7,98.5 L277.9,97.2 L278.1,95.8 L278.4,94.5 L278.6,93.1 L278.8,91.8 L279.0,90.4 L279.3,89.1 L279.5,87.7 L279.8,86.4 L280.0,85.0 L280.3,83.7 L280.6,82.3 L280.8,81.0 L281.1,79.6 L281.4,78.2 L281.7,76.9 L282.0,75.5 L282.3,74.2 L282.6,75.5 L282.9,76.9 L283.2,78.3 L283.5,79.7 L283.8,81.0 L284.1,82.4 L284.3,83.8 L284.6,85.1 L284.9,86.5 L285.1,87.9 L285.4,89.2 L285.6,90.6 L285.8,91.9 L286.1,93.3 L286.3,94.6 L286.5,96.0 L286.7,97.3 L286.9,98.7 L287.1,100.0 L287.3,101.4 L287.5,102.7 L287.7,104.0 L287.9,105.4 L288.0,106.7 L288.2,108.0 L288.4,109.4 L288.5,110.7 L288.6,112.0 L288.8,113.3 L288.9,114.7 L289.0,116.0 L289.1,117.3 L289.3,118.6 L289.4,119.9 L289.5,121.3 L289.6,122.6 L289.7,123.9 L289.8,125.2 L289.9,126.5 L290.0,127.8 L290.1,129.1 L290.2,130.4 L290.3,131.7 L290.4,133.0 L290.5,134.3 L290.6,135.6 L290.7,136.9 L290.8,138.2 L290.8,139.4 L290.9,140.7 L291.0,142.0 L291.1,143.3 L291.2,144.6 L291.2,145.9 L291.3,147.1 L291.4,148.4 L291.5,149.7 L291.6,151.0 L291.6,152.2 L291.7,153.5 L291.8,154.8 L291.9,156.1 L291.9,157.3 L292.0,158.6 L292.1,159.8 L292.2,161.1 L292.2,162.4 L292.3,163.6 L292.4,164.9 L292.5,166.1 L292.6,167.4 L292.6,168.6 L292.7,169.9 L292.8,171.2 L292.9,172.4 L293.0,173.6 L293.1,174.9 L293.1,176.1 L293.2,177.4 L293.3,178.6 L293.4,179.9 L293.5,181.1 L293.6,182.3 L293.7,183.6 L293.7,184.8 L293.8,186.1 L293.9,187.3 L294.0,188.5 L294.1,189.8 L294.2,191.0 L294.3,192.2 L294.4,193.5 L294.5,194.7 L294.6,195.9 L294.7,197.1 L294.7,198.4 L294.8,199.6 L294.9,200.8 L295.0,202.0 L295.1,203.3 L295.2,204.5 L295.3,205.7 L295.4,206.9 L295.5,208.1 L295.6,209.4 L295.7,210.6 L295.8,211.8 L295.9,213.0 L296.0,214.2 L296.1,215.4 L296.2,216.7 L296.3,217.9 L296.4,219.1 L296.5,220.3 L296.6,221.5 L296.7,222.7 L296.8,223.9 L296.9,225.1 L297.0,226.4 L297.1,227.6 L297.2,228.8 L297.3,230.0 L297.4,231.2 L297.5,232.4 L297.6,233.6 L297.7,234.8 L297.8,236.0 L297.9,237.2 L298.1,238.4 L298.2,239.6 L298.3,240.8 L298.4,242.1 L298.5,243.3 L298.6,244.5 L298.7,245.7 L298.8,246.9 L298.9,248.1 L299.0,249.3 L299.1,250.5 L299.2,251.7 L299.3,252.9 L299.4,254.1 L299.5,255.3 L299.7,256.5 L299.8,257.7 L299.9,258.9 L300.0,260.1 L300.1,261.3 L300.2,262.5 L300.3,263.7 L300.4,264.9 L300.5,266.1 L300.6,267.3 L300.8,268.5 L300.9,269.7 L301.0,270.9 L301.1,272.1 L301.2,273.3 L301.3,274.5 L301.4,275.7 L301.6,276.9 L301.7,278.1 L301.8,279.3 L301.9,280.5 L302.0,281.7 L302.2,282.9 L302.3,284.1 L302.4,285.2 L302.5,286.4 L302.6,287.6 L302.8,288.8 L302.9,290.0 L303.0,291.2 L303.1,292.4 L303.3,293.6 L303.4,294.8 L303.5,296.0 L303.7,297.2 L303.8,298.4 L303.9,299.6 L304.0,300.8 L304.2,302.0 L304.3,303.2 L304.4,304.4 L304.6,305.6 L304.7,306.8 L304.9,308.0 L305.0,309.2 L305.1,310.4 L305.3,311.6 L305.4,312.7 L305.6,313.9 L305.7,315.1 L305.9,316.3 L306.0,317.5 L306.1,318.7 L306.3,319.9 L306.4,321.1 L306.6,322.3 L306.7,323.5 L306.9,324.7 L307.1,325.9 L307.2,327.1 L307.4,328.3 L307.5,329.5 L307.7,330.6 L307.9,331.8 L308.0,333.0 L308.2,334.2 L308.4,335.4 L308.5,336.6 L308.7,337.8 L308.9,339.0 L309.1,340.2 L309.2,341.4 L309.4,342.6 L309.6,343.7 L309.8,344.9 L310.0,346.1 L310.2,347.3 L310.3,348.5 L310.5,349.7 L310.7,350.9 L310.9,352.0 L311.1,353.2 L311.3,354.4 L311.5,355.6 L311.7,356.8 L311.9,358.0 L312.2,359.2 L312.4,360.3 L312.6,361.5 L312.8,362.7 L313.0,363.9 L313.2,365.1 L313.5,366.2 L313.7,367.4 L313.9,368.6 L314.2,369.8 L314.4,371.0 L314.6,372.1 L314.9,373.3 L315.1,374.5 L315.4,375.7 L315.6,376.8 L315.9,378.0 L316.2,379.2 L316.4,380.3 L316.7,381.5 L317.0,382.7 L317.2,383.9 L317.5,385.0 L317.8,386.2 L318.1,387.4 L318.4,388.5 L318.7,389.7 L319.0,390.8 L319.3,392.0 L319.6,393.2 L319.9,394.3 L320.2,395.5 L320.5,396.6 L320.8,397.8 L321.1,399.0 L321.5,400.1 L321.8,401.3 L322.1,402.4 L322.5,403.6 L322.8,404.7 L323.1,405.9 L323.5,407.0 L323.9,408.2 L324.2,409.3 L324.6,410.5 L325.0,411.6 L325.3,412.7 L325.7,413.9 L326.1,415.0 L326.5,416.2 L326.9,417.3 L327.3,418.4 L327.7,419.6 L328.1,420.7 L328.5,421.8 L329.0,423.0 L329.4,424.1 L329.8,425.2 L330.3,426.3 L330.7,427.5 L331.2,428.6 L331.6,429.7 L332.1,430.8 L332.6,431.9 L333.1,433.0 L333.6,434.1 L334.1,435.2 L334.6,436.3 L335.1,437.3 L335.7,438.4 L336.2,439.5 L336.8,440.5 L337.4,441.6 L337.9,442.6 L338.6,443.6 L339.2,444.6 L339.8,445.7 L340.5,446.7 L341.1,447.7 L341.8,448.6 L342.5,449.6 L343.2,450.6 L343.9,451.5 L344.7,452.5 L345.4,453.4 L346.2,454.3 L347.0,455.2 L347.8,456.1 L348.6,457.0 L349.4,457.8 L350.2,458.7 L351.1,459.5 L352.0,460.4 L352.8,461.2 L353.7,462.0 L354.6,462.8 L355.6,463.5 L356.5,464.3 L357.4,465.1 L358.4,465.8 L359.4,466.5 L360.4,467.2 L361.4,467.9 L362.4,468.6 L363.5,469.3 L364.5,469.9 L365.5,470.6 L366.6,471.2 L367.6,471.8 L368.7,472.5 L369.8,473.1 L370.9,473.7 L372.0,474.2 L373.0,474.8 L374.1,475.4 L375.2,475.9 L376.4,476.4 L377.5,477.0 L378.6,477.5 L379.7,478.0 L380.8,478.5 L382.0,479.0 L383.1,479.4 L384.3,479.9 L385.4,480.4 L386.6,480.8 L387.7,481.2 L388.9,481.7 L390.0,482.1 L391.2,482.5 L392.4,482.9 L393.5,483.3 L394.7,483.7 L395.9,484.0 L397.1,484.4 L398.2,484.7 L399.4,485.1 L400.6,485.5 L401.8,485.8 L403.0,486.1 L404.2,486.5 L405.4,486.8 L406.6,487.1 L407.8,487.4 L409.0,487.7 L410.2,488.0 L411.4,488.3 L412.6,488.6 L413.8,488.8 L415.0,489.1 L416.3,489.3 L417.5,489.6 L418.7,489.8 L419.9,490.0 L421.1,490.2 L422.3,490.4 L423.6,490.6 L424.8,490.8 L426.0,491.0 L427.2,491.2 L428.5,491.3 L429.7,491.5 L430.9,491.6 L432.1,491.8 L433.4,491.9 L434.6,492.0 L435.8,492.2 L437.0,492.2 L438.2,492.3 L439.4,492.4 L440.6,492.4 L441.8,492.5 L443.0,492.5 L444.2,492.6 L445.4,492.6 L446.6,492.6 L447.8,492.6 L449.0,492.7 L450.2,492.7 L451.4,492.7 L452.6,492.7 L453.8,492.7 L455.0,492.6 L456.2,492.6 L457.4,492.6 L458.6,492.6 L459.8,492.6 L461.0,492.5 L462.2,492.5 L463.4,492.5 L464.6,492.4 L465.8,492.4 L467.0,492.3 L468.2,492.3 L469.4,492.2 L470.6,492.2 L471.9,492.1 L473.1,492.1 L474.3,492.0 L475.5,492.0 L476.7,491.9 L477.9,491.9 L479.1,491.8 L480.3,491.8 L481.5,491.7 L482.7,491.7 L483.9,491.6 L485.1,491.6 L486.3,491.5 L487.5,491.5 L488.7,491.4 L489.9,491.4 L491.1,491.4 L492.3,491.3 L493.5,491.3 L494.7,491.3 L496.0,491.2 L497.2,491.2 L498.4,491.2 L499.6,491.2 L500.8,491.2 L502.0,491.2 L503.2,491.2 L504.4,491.2 L505.6,491.2 L506.8,491.2 L508.0,491.2 L509.2,491.2 L510.4,491.2 L511.6,491.2 L512.8,491.3 L514.0,491.3 L515.2,491.3 L516.4,491.3 L517.6,491.4 L518.8,491.4 L520.0,491.4 L521.2,491.5 L522.4,491.5 L523.6,491.5 L524.8,491.6 L526.0,491.6 L527.2,491.7 L528.4,491.7 L529.6,491.7 L530.8,491.8 L532.0,491.8 L533.2,491.9 L534.4,491.9 L535.6,492.0 L536.8,492.0 L538.0,492.0 L539.2,492.1 L540.4,492.1 L541.6,492.2 L542.8,492.2 L544.0,492.3 L545.2,492.3 L546.4,492.3 L547.6,492.4 L548.8,492.4 L550.0,492.4 L551.2,492.5 L552.4,492.5 L553.6,492.5 L554.9,492.5 L556.1,492.5 L557.3,492.5 L558.5,492.5 L559.7,492.5 L560.9,492.5 L562.1,492.5 L563.3,492.5 L564.5,492.5 L565.7,492.5 L566.9,492.5 L568.1,492.5 L569.3,492.5 L570.5,492.5 L571.7,492.5 L572.9,492.5 L574.1,492.5 L575.3,492.5 L576.5,492.5 L577.7,492.5 L578.9,492.5 L580.1,492.5 L581.3,492.5 L582.5,492.5 L583.7,492.6 L584.9,492.6 L586.1,492.6 L587.3,492.6 L588.5,492.7 L589.7,492.7 L590.9,492.7 L592.1,492.7 L593.3,492.7 L594.5,492.7 L595.7,492.8 L596.9,492.8 L598.1,492.8 L599.3,492.8 L600.5,492.8 L601.8,492.8 L603.0,492.9 L604.2,492.9 L605.4,492.9 L606.6,492.9 L607.8,492.9 L609.0,492.9 L610.2,492.9 L611.4,493.0 L612.6,493.0 L613.8,493.0 L615.0,493.0 L616.2,493.0 L617.4,493.0 L618.6,493.0 L619.8,493.0 L621.0,493.0 L622.2,493.1 L623.4,493.1 L624.6,493.1 L625.8,493.1 L627.0,493.1 L628.2,493.1 L629.4,493.1 L630.6,493.1 L631.8,493.1 L633.0,493.1 L634.2,493.1 L635.4,493.1 L636.6,493.1 L637.8,493.2 L639.0,493.2 L640.3,493.2 L641.5,493.2 L642.7,493.2 L643.9,493.2 L645.1,493.2 L646.3,493.2 L647.5,493.2 L648.7,493.2 L649.9,493.2 L651.1,493.2 L652.3,493.2 L653.5,493.2 L654.7,493.2 L655.9,493.2 L657.1,493.2 L658.3,493.2 L659.5,493.2 L660.7,493.2 L661.9,493.2 L663.1,493.2 L664.3,493.2 L665.5,493.2 L666.7,493.2 L667.9,493.2 L669.1,493.2 L670.3,493.2 L671.5,493.2 L672.7,493.2 L673.9,493.2 L675.1,493.2 L676.3,493.2 L677.5,493.2 L678.7,493.2 L680.0,493.2 L681.2,493.2 L682.4,493.2 L683.6,493.2 L684.8,493.2 L686.0,493.2 L687.2,493.2 L688.4,493.2 L689.6,493.2 L690.8,493.1 L692.0,493.1 L693.2,493.1 L694.4,493.1 L695.6,493.1 L696.8,493.1 L698.0,493.1 L699.2,493.1 L700.4,493.1 L701.6,493.1 L702.8,493.1 L704.0,493.1 L717.0,491.9 L751.0,491.9 L796.7,491.9"/>
<path stroke="#FFCA30" stroke-width="7" d="M138.5,374.0 L139.6,373.8 L140.8,373.6 L142.0,373.4 L143.2,373.2 L144.4,373.0 L145.6,372.8 L146.8,372.6 L148.0,372.4 L149.2,372.2 L150.3,372.0 L151.5,371.8 L152.7,371.6 L153.9,371.4 L155.1,371.2 L156.3,371.0 L157.5,370.8 L158.6,370.6 L159.8,370.4 L161.0,370.2 L162.2,370.0 L163.4,369.8 L164.5,369.6 L165.7,369.4 L166.9,369.1 L168.1,368.9 L169.2,368.7 L170.4,368.4 L171.6,368.1 L172.8,367.9 L173.9,367.6 L175.1,367.3 L176.3,367.0 L177.4,366.7 L178.6,366.4 L179.8,366.0 L180.9,365.7 L182.1,365.3 L183.2,365.0 L184.4,364.6 L185.6,364.2 L186.7,363.8 L187.9,363.3 L189.0,362.9 L190.1,362.5 L191.3,362.0 L192.4,361.5 L193.5,361.0 L194.6,360.5 L195.7,360.0 L196.8,359.5 L197.9,359.0 L199.0,358.4 L200.1,357.9 L201.1,357.3 L202.2,356.7 L203.3,356.1 L204.3,355.5 L205.3,354.8 L206.3,354.2 L207.3,353.5 L208.3,352.8 L209.3,352.2 L210.3,351.5 L211.3,350.7 L212.2,350.0 L213.1,349.3 L214.1,348.5 L215.0,347.7 L215.9,347.0 L216.8,346.2 L217.6,345.4 L218.5,344.5 L219.3,343.7 L220.2,342.9 L221.0,342.0 L221.8,341.1 L222.6,340.2 L223.4,339.4 L224.2,338.5 L224.9,337.5 L225.7,336.6 L226.4,335.7 L227.2,334.7 L227.9,333.8 L228.6,332.8 L229.3,331.8 L230.0,330.9 L230.7,329.9 L231.4,328.9 L232.0,327.9 L232.7,326.9 L233.3,325.8 L234.0,324.8 L234.6,323.8 L235.2,322.7 L235.8,321.7 L236.4,320.6 L237.0,319.6 L237.5,318.5 L238.1,317.4 L238.7,316.3 L239.2,315.2 L239.8,314.1 L240.3,313.0 L240.8,311.9 L241.3,310.8 L241.8,309.7 L242.3,308.6 L242.8,307.5 L243.3,306.4 L243.8,305.2 L244.2,304.1 L244.7,303.0 L245.1,301.8 L245.6,300.7 L246.0,299.6 L246.4,298.4 L246.9,297.3 L247.3,296.1 L247.7,295.0 L248.1,293.9 L248.5,292.7 L248.9,291.6 L249.2,290.4 L249.6,289.3 L250.0,288.1 L250.3,287.0 L250.7,285.8 L251.0,284.7 L251.4,283.5 L251.7,282.4 L252.0,281.2 L252.4,280.1 L252.7,278.9 L253.0,277.8 L253.3,276.6 L253.6,275.5 L253.9,274.3 L254.3,273.2 L254.6,272.0 L254.8,270.9 L255.1,269.7 L255.4,268.5 L255.7,267.4 L256.0,266.2 L256.3,265.0 L256.6,263.9 L256.8,262.7 L257.1,261.5 L257.4,260.4 L257.7,259.2 L257.9,258.0 L258.2,256.8 L258.4,255.7 L258.7,254.5 L258.9,253.3 L259.2,252.1 L259.4,250.9 L259.7,249.8 L259.9,248.6 L260.1,247.4 L260.4,246.2 L260.6,245.0 L260.8,243.8 L261.1,242.7 L261.3,241.5 L261.5,240.3 L261.7,239.1 L261.9,237.9 L262.1,236.7 L262.4,235.5 L262.6,234.3 L262.8,233.2 L263.0,232.0 L263.2,230.8 L263.4,229.6 L263.6,228.4 L263.8,227.2 L264.0,226.0 L264.2,224.8 L264.4,223.6 L264.6,222.4 L264.8,221.3 L265.0,220.1 L265.1,218.9 L265.3,217.7 L265.5,216.5 L265.7,215.3 L265.9,214.1 L266.1,212.9 L266.2,211.7 L266.4,210.5 L266.6,209.3 L266.8,208.1 L266.9,207.0 L267.1,205.8 L267.3,204.6 L267.5,203.4 L267.6,202.2 L267.8,201.0 L268.0,199.8 L268.1,198.6 L268.3,197.4 L268.4,196.2 L268.6,195.0 L268.8,193.8 L268.9,192.6 L269.1,191.4 L269.2,190.2 L269.4,189.0 L269.5,187.8 L269.7,186.6 L269.8,185.5 L270.0,184.3 L270.1,183.1 L270.3,181.9 L270.4,180.7 L270.6,179.5 L270.7,178.3 L270.8,177.1 L271.0,175.9 L271.1,174.7 L271.3,173.5 L271.4,172.3 L271.5,171.1 L271.7,169.9 L271.8,168.7 L271.9,167.5 L272.1,166.3 L272.2,165.1 L272.3,163.9 L272.5,162.7 L272.6,161.5 L272.7,160.3 L272.8,159.1 L273.0,157.9 L273.1,156.7 L273.2,155.5 L273.4,154.3 L273.5,153.1 L273.6,151.9 L273.7,150.7 L273.9,149.5 L274.0,148.3 L274.1,147.1 L274.2,145.9 L274.4,144.7 L274.5,143.5 L274.6,142.3 L274.8,141.1 L274.9,139.9 L275.0,138.7 L275.2,137.5 L275.3,136.3 L275.5,135.1 L275.6,133.9 L275.7,132.7 L275.9,131.5 L276.0,130.3 L276.2,129.1 L276.3,127.9 L276.5,126.7 L276.7,125.5 L276.8,124.4 L277.0,123.2 L277.1,122.0 L277.3,120.8 L277.5,119.6 L277.7,118.4 L277.8,117.2 L278.0,116.0 L278.2,114.8 L278.4,113.6 L278.6,112.4 L278.8,111.3 L279.0,110.1 L279.2,108.9 L279.4,107.7 L279.6,106.5 L279.9,105.3 L280.1,104.2 L280.3,103.0 L280.6,101.8 L280.8,100.6 L281.0,99.4 L281.3,98.3 L281.6,97.1 L281.8,95.9 L282.1,94.7 L282.4,93.6 L282.6,92.4 L282.9,91.2 L283.2,90.0 L283.5,88.9 L283.8,87.7 L284.2,86.5 L284.5,85.4 L284.8,84.2 L285.1,85.4 L285.3,86.6 L285.6,87.7 L285.8,88.9 L286.1,90.1 L286.3,91.3 L286.5,92.5 L286.8,93.6 L287.0,94.8 L287.2,96.0 L287.4,97.2 L287.6,98.4 L287.8,99.6 L288.0,100.7 L288.2,101.9 L288.4,103.1 L288.6,104.3 L288.7,105.5 L288.9,106.7 L289.1,107.9 L289.2,109.1 L289.4,110.3 L289.5,111.5 L289.7,112.6 L289.8,113.8 L290.0,115.0 L290.1,116.2 L290.2,117.4 L290.4,118.6 L290.5,119.8 L290.6,121.0 L290.7,122.2 L290.8,123.4 L291.0,124.6 L291.1,125.8 L291.2,127.0 L291.3,128.2 L291.4,129.4 L291.5,130.6 L291.6,131.8 L291.7,133.0 L291.8,134.2 L291.9,135.4 L291.9,136.6 L292.0,137.8 L292.1,139.0 L292.2,140.2 L292.3,141.4 L292.4,142.6 L292.5,143.8 L292.5,145.0 L292.6,146.2 L292.7,147.4 L292.8,148.6 L292.8,149.8 L292.9,151.0 L293.0,152.2 L293.1,153.4 L293.1,154.6 L293.2,155.8 L293.3,157.0 L293.4,158.2 L293.4,159.4 L293.5,160.6 L293.6,161.8 L293.7,163.0 L293.7,164.2 L293.8,165.4 L293.9,166.6 L294.0,167.8 L294.0,169.0 L294.1,170.2 L294.2,171.4 L294.3,172.6 L294.4,173.8 L294.4,175.0 L294.5,176.2 L294.6,177.4 L294.7,178.6 L294.8,179.8 L294.9,181.0 L294.9,182.2 L295.0,183.4 L295.1,184.6 L295.2,185.8 L295.3,187.0 L295.4,188.2 L295.5,189.4 L295.5,190.6 L295.6,191.8 L295.7,193.0 L295.8,194.2 L295.9,195.4 L296.0,196.6 L296.1,197.8 L296.2,199.0 L296.3,200.2 L296.3,201.4 L296.4,202.6 L296.5,203.8 L296.6,205.0 L296.7,206.2 L296.8,207.4 L296.9,208.6 L297.0,209.8 L297.1,211.0 L297.2,212.2 L297.3,213.4 L297.4,214.6 L297.5,215.8 L297.6,217.0 L297.7,218.2 L297.8,219.4 L297.9,220.6 L298.0,221.8 L298.1,223.0 L298.2,224.2 L298.3,225.4 L298.4,226.6 L298.5,227.8 L298.6,229.0 L298.7,230.2 L298.8,231.4 L298.9,232.6 L299.0,233.8 L299.1,235.0 L299.2,236.2 L299.3,237.4 L299.4,238.6 L299.5,239.8 L299.6,241.0 L299.7,242.1 L299.8,243.3 L299.9,244.5 L300.0,245.7 L300.1,246.9 L300.2,248.1 L300.3,249.3 L300.4,250.5 L300.5,251.7 L300.6,252.9 L300.7,254.1 L300.9,255.3 L301.0,256.5 L301.1,257.7 L301.2,258.9 L301.3,260.1 L301.4,261.3 L301.5,262.5 L301.6,263.7 L301.7,264.9 L301.9,266.1 L302.0,267.3 L302.1,268.5 L302.2,269.7 L302.3,270.9 L302.4,272.1 L302.5,273.3 L302.7,274.5 L302.8,275.7 L302.9,276.9 L303.0,278.1 L303.1,279.3 L303.2,280.5 L303.4,281.7 L303.5,282.9 L303.6,284.1 L303.7,285.3 L303.9,286.4 L304.0,287.6 L304.1,288.8 L304.2,290.0 L304.4,291.2 L304.5,292.4 L304.6,293.6 L304.7,294.8 L304.9,296.0 L305.0,297.2 L305.1,298.4 L305.3,299.6 L305.4,300.8 L305.5,302.0 L305.7,303.2 L305.8,304.4 L305.9,305.6 L306.1,306.8 L306.2,308.0 L306.4,309.2 L306.5,310.4 L306.6,311.6 L306.8,312.7 L306.9,313.9 L307.1,315.1 L307.2,316.3 L307.4,317.5 L307.5,318.7 L307.7,319.9 L307.8,321.1 L308.0,322.3 L308.1,323.5 L308.3,324.7 L308.4,325.9 L308.6,327.1 L308.8,328.3 L308.9,329.5 L309.1,330.6 L309.3,331.8 L309.4,333.0 L309.6,334.2 L309.8,335.4 L309.9,336.6 L310.1,337.8 L310.3,339.0 L310.5,340.2 L310.6,341.4 L310.8,342.6 L311.0,343.7 L311.2,344.9 L311.4,346.1 L311.6,347.3 L311.8,348.5 L312.0,349.7 L312.2,350.9 L312.3,352.0 L312.6,353.2 L312.8,354.4 L313.0,355.6 L313.2,356.8 L313.4,358.0 L313.6,359.2 L313.8,360.3 L314.0,361.5 L314.2,362.7 L314.5,363.9 L314.7,365.1 L314.9,366.2 L315.2,367.4 L315.4,368.6 L315.6,369.8 L315.9,371.0 L316.1,372.1 L316.4,373.3 L316.6,374.5 L316.9,375.7 L317.1,376.8 L317.4,378.0 L317.6,379.2 L317.9,380.3 L318.2,381.5 L318.4,382.7 L318.7,383.9 L319.0,385.0 L319.3,386.2 L319.6,387.4 L319.9,388.5 L320.2,389.7 L320.5,390.8 L320.8,392.0 L321.1,393.2 L321.4,394.3 L321.7,395.5 L322.0,396.6 L322.4,397.8 L322.7,399.0 L323.0,400.1 L323.4,401.3 L323.7,402.4 L324.1,403.6 L324.4,404.7 L324.8,405.9 L325.1,407.0 L325.5,408.2 L325.9,409.3 L326.2,410.5 L326.6,411.6 L327.0,412.7 L327.4,413.9 L327.8,415.0 L328.2,416.2 L328.6,417.3 L329.0,418.4 L329.4,419.6 L329.9,420.7 L330.3,421.8 L330.7,423.0 L331.2,424.1 L331.6,425.2 L332.1,426.3 L332.5,427.5 L333.0,428.6 L333.5,429.7 L334.0,430.8 L334.5,431.9 L335.0,433.0 L335.5,434.1 L336.0,435.2 L336.5,436.3 L337.1,437.3 L337.6,438.4 L338.2,439.5 L338.8,440.5 L339.3,441.6 L339.9,442.6 L340.6,443.6 L341.2,444.6 L341.8,445.7 L342.5,446.7 L343.1,447.7 L343.8,448.6 L344.5,449.6 L345.2,450.6 L345.9,451.5 L346.7,452.5 L347.4,453.4 L348.2,454.3 L349.0,455.2 L349.8,456.1 L350.6,457.0 L351.4,457.8 L352.2,458.7 L353.1,459.5 L354.0,460.4 L354.8,461.2 L355.7,462.0 L356.6,462.8 L357.6,463.5 L358.5,464.3 L359.4,465.1 L360.4,465.8 L361.4,466.5 L362.3,467.2 L363.3,467.9 L364.3,468.6 L365.3,469.3 L366.3,469.9 L367.4,470.6 L368.4,471.2 L369.4,471.8 L370.5,472.5 L371.5,473.1 L372.6,473.7 L373.6,474.2 L374.7,474.8 L375.7,475.4 L376.8,475.9 L377.9,476.4 L379.0,477.0 L380.1,477.5 L381.2,478.0 L382.3,478.5 L383.4,479.0 L384.5,479.4 L385.6,479.9 L386.7,480.4 L387.9,480.8 L389.0,481.2 L390.1,481.7 L391.2,482.1 L392.4,482.5 L393.5,482.9 L394.7,483.3 L395.8,483.7 L397.0,484.0 L398.1,484.4 L399.3,484.7 L400.4,485.1 L401.6,485.4 L402.7,485.8 L403.9,486.1 L405.1,486.4 L406.2,486.7 L407.4,487.0 L408.6,487.3 L409.7,487.5 L410.9,487.8 L412.1,488.1 L413.3,488.3 L414.4,488.6 L415.6,488.8 L416.8,489.0 L418.0,489.2 L419.2,489.4 L420.3,489.6 L421.5,489.8 L422.7,490.0 L423.9,490.2 L425.1,490.3 L426.3,490.5 L427.5,490.6 L428.7,490.8 L429.8,490.9 L431.0,491.0 L432.2,491.2 L433.4,491.3 L434.6,491.4 L435.8,491.5 L437.0,491.5 L438.2,491.6 L439.4,491.7 L440.6,491.7 L441.8,491.8 L443.0,491.8 L444.2,491.9 L445.4,491.9 L446.6,491.9 L447.8,491.9 L449.0,492.0 L450.2,492.0 L451.4,492.0 L452.6,492.0 L453.8,492.0 L455.0,491.9 L456.2,491.9 L457.4,491.9 L458.6,491.9 L459.8,491.9 L461.0,491.8 L462.2,491.8 L463.4,491.8 L464.6,491.7 L465.8,491.7 L467.0,491.6 L468.2,491.6 L469.4,491.5 L470.6,491.5 L471.9,491.4 L473.1,491.4 L474.3,491.3 L475.5,491.3 L476.7,491.2 L477.9,491.2 L479.1,491.1 L480.3,491.1 L481.5,491.0 L482.7,491.0 L483.9,490.9 L485.1,490.9 L486.3,490.8 L487.5,490.8 L488.7,490.7 L489.9,490.7 L491.1,490.7 L492.3,490.6 L493.5,490.6 L494.7,490.6 L496.0,490.5 L497.2,490.5 L498.4,490.5 L499.6,490.5 L500.8,490.5 L502.0,490.5 L503.2,490.5 L504.4,490.5 L505.6,490.5 L506.8,490.5 L508.0,490.5 L509.2,490.5 L510.4,490.5 L511.6,490.5 L512.8,490.6 L514.0,490.6 L515.2,490.6 L516.4,490.6 L517.6,490.7 L518.8,490.7 L520.0,490.7 L521.2,490.8 L522.4,490.8 L523.6,490.8 L524.8,490.9 L526.0,490.9 L527.2,491.0 L528.4,491.0 L529.6,491.0 L530.8,491.1 L532.0,491.1 L533.2,491.2 L534.4,491.2 L535.6,491.3 L536.8,491.3 L538.0,491.3 L539.2,491.4 L540.4,491.4 L541.6,491.5 L542.8,491.5 L544.0,491.6 L545.2,491.6 L546.4,491.6 L547.6,491.7 L548.8,491.7 L550.0,491.7 L551.2,491.8 L552.4,491.8 L553.6,491.9 L554.9,491.9 L556.1,491.9 L557.3,492.0 L558.5,492.0 L559.7,492.0 L560.9,492.1 L562.1,492.1 L563.3,492.1 L564.5,492.1 L565.7,492.2 L566.9,492.2 L568.1,492.2 L569.3,492.3 L570.5,492.3 L571.7,492.3 L572.9,492.3 L574.1,492.4 L575.3,492.4 L576.5,492.4 L577.7,492.5 L578.9,492.5 L580.1,492.5 L581.3,492.5 L582.5,492.5 L583.7,492.6 L584.9,492.6 L586.1,492.6 L587.3,492.6 L588.5,492.7 L589.7,492.7 L590.9,492.7 L592.1,492.7 L593.3,492.7 L594.5,492.7 L595.7,492.8 L596.9,492.8 L598.1,492.8 L599.3,492.8 L600.5,492.8 L601.8,492.8 L603.0,492.9 L604.2,492.9 L605.4,492.9 L606.6,492.9 L607.8,492.9 L609.0,492.9 L610.2,492.9 L611.4,493.0 L612.6,493.0 L613.8,493.0 L615.0,493.0 L616.2,493.0 L617.4,493.0 L618.6,493.0 L619.8,493.0 L621.0,493.0 L622.2,493.1 L623.4,493.1 L624.6,493.1 L625.8,493.1 L627.0,493.1 L628.2,493.1 L629.4,493.1 L630.6,493.1 L631.8,493.1 L633.0,493.1 L634.2,493.1 L635.4,493.1 L636.6,493.1 L637.8,493.2 L639.0,493.2 L640.3,493.2 L641.5,493.2 L642.7,493.2 L643.9,493.2 L645.1,493.2 L646.3,493.2 L647.5,493.2 L648.7,493.2 L649.9,493.2 L651.1,493.2 L652.3,493.2 L653.5,493.2 L654.7,493.2 L655.9,493.2 L657.1,493.2 L658.3,493.2 L659.5,493.2 L660.7,493.2 L661.9,493.2 L663.1,493.2 L664.3,493.2 L665.5,493.2 L666.7,493.2 L667.9,493.2 L669.1,493.2 L670.3,493.2 L671.5,493.2 L672.7,493.2 L673.9,493.2 L675.1,493.2 L676.3,493.2 L677.5,493.2 L678.7,493.2 L680.0,493.2 L681.2,493.2 L682.4,493.2 L683.6,493.2 L684.8,493.2 L686.0,493.2 L687.2,493.2 L688.4,493.2 L689.6,493.2 L690.8,493.1 L692.0,493.1 L693.2,493.1 L694.4,493.1 L695.6,493.1 L696.8,493.1 L698.0,493.1 L699.2,493.1 L700.4,493.1 L701.6,493.1 L702.8,493.1 L704.0,493.1 L717.0,491.9 L751.0,491.9 L796.7,491.9"/>
<path stroke="#76ABDD" stroke-width="6.7" d="M152.5,493.3 L157.6,492.6 L158.2,491.5 L158.7,490.4 L159.3,489.4 L159.8,488.3 L160.2,487.1 L160.7,486.0 L161.1,484.9 L161.5,483.8 L161.9,482.6 L162.2,481.5 L162.6,480.3 L162.9,479.2 L163.2,478.0 L163.5,476.9 L163.7,475.7 L164.0,474.5 L164.2,473.3 L164.4,472.1 L164.6,470.9 L164.8,469.8 L165.0,468.6 L165.1,467.4 L165.3,466.2 L165.5,465.0 L165.6,463.8 L165.8,462.6 L165.9,461.3 L166.0,460.1 L166.2,458.9 L166.3,457.7 L166.4,456.5 L166.6,455.3 L166.7,454.1 L166.8,452.9 L167.0,451.7 L167.1,450.5 L167.2,449.3 L167.3,448.1 L167.5,446.9 L167.6,445.7 L167.7,444.5 L167.8,443.3 L167.9,442.1 L168.0,440.8 L168.1,439.6 L168.3,438.4 L168.4,437.2 L168.5,436.0 L168.6,434.8 L168.7,433.6 L168.8,432.4 L168.9,431.2 L169.0,430.0 L169.1,428.8 L169.2,427.6 L169.3,426.4 L169.4,425.2 L169.5,424.0 L169.6,422.7 L169.7,421.5 L169.7,420.3 L169.8,419.1 L169.9,417.9 L170.0,416.7 L170.1,415.5 L170.2,414.3 L170.3,413.1 L170.3,411.9 L170.4,410.7 L170.5,409.5 L170.6,408.3 L170.7,407.1 L170.7,405.8 L170.8,404.6 L170.9,403.4 L171.0,402.2 L171.0,401.0 L171.1,399.8 L171.2,398.6 L171.2,397.4 L171.3,396.2 L171.4,395.0 L171.4,393.8 L171.5,392.6 L171.6,391.4 L171.6,390.1 L171.7,388.9 L171.7,387.7 L171.8,386.5 L171.9,385.3 L171.9,384.1 L172.0,382.9 L172.0,381.7 L172.1,380.5 L172.1,379.3 L172.2,378.1 L172.2,376.9 L172.3,375.6 L172.3,374.4 L172.4,373.2 L172.4,372.0 L172.5,370.8 L172.5,369.6 L172.6,368.4 L172.6,367.2 L172.7,366.0 L172.7,364.8 L172.7,363.6 L172.8,362.3 L172.8,361.1 L172.9,359.9 L172.9,358.7 L173.0,357.5 L173.0,356.3 L173.0,355.1 L173.1,353.9 L173.1,352.7 L173.2,351.5 L173.2,350.3 L173.3,349.0 L173.3,347.8 L173.3,346.6 L173.4,345.4 L173.4,344.2 L173.5,343.0 L173.5,341.8 L173.5,340.6 L173.6,339.4 L173.6,338.2 L173.7,337.0 L173.7,335.7 L173.7,334.5 L173.8,333.3 L173.8,332.1 L173.9,330.9 L173.9,329.7 L174.0,328.5 L174.0,327.3 L174.0,326.1 L174.1,324.9 L174.1,323.7 L174.2,322.4 L174.2,321.2 L174.3,320.0 L174.3,318.8 L174.4,317.6 L174.4,316.4 L174.5,315.2 L174.5,314.0 L174.6,312.8 L174.6,311.6 L174.7,310.4 L174.7,309.1 L174.8,307.9 L174.8,306.7 L174.9,305.5 L174.9,304.3 L175.0,303.1 L175.1,301.9 L175.1,300.7 L175.2,299.5 L175.2,298.3 L175.3,297.1 L175.4,295.9 L175.4,294.7 L175.5,293.5 L175.6,292.2 L175.6,291.0 L175.7,289.8 L175.8,288.6 L175.9,287.4 L176.0,286.2 L176.1,285.0 L176.2,283.8 L176.3,282.6 L176.4,281.4 L176.5,280.2 L176.6,279.0 L176.8,277.8 L176.9,276.6 L177.1,277.8 L177.2,279.0 L177.3,280.2 L177.5,281.4 L177.6,282.6 L177.7,283.8 L177.8,285.0 L177.9,286.2 L178.0,287.4 L178.1,288.6 L178.2,289.8 L178.3,291.0 L178.4,292.2 L178.5,293.4 L178.5,294.6 L178.6,295.8 L178.7,297.0 L178.7,298.2 L178.8,299.4 L178.9,300.6 L178.9,301.8 L179.0,303.0 L179.0,304.2 L179.1,305.4 L179.1,306.6 L179.2,307.8 L179.2,309.0 L179.2,310.2 L179.3,311.4 L179.3,312.6 L179.3,313.8 L179.4,315.1 L179.4,316.3 L179.5,317.5 L179.5,318.7 L179.5,319.9 L179.6,321.1 L179.6,322.3 L179.6,323.5 L179.7,324.7 L179.7,325.9 L179.7,327.1 L179.8,328.3 L179.8,329.5 L179.8,330.7 L179.9,331.9 L179.9,333.1 L179.9,334.3 L180.0,335.6 L180.0,336.8 L180.1,338.0 L180.1,339.2 L180.1,340.4 L180.2,341.6 L180.2,342.8 L180.2,344.0 L180.3,345.2 L180.3,346.4 L180.4,347.6 L180.4,348.8 L180.4,350.0 L180.5,351.2 L180.5,352.4 L180.6,353.7 L180.6,354.9 L180.6,356.1 L180.7,357.3 L180.7,358.5 L180.8,359.7 L180.8,360.9 L180.9,362.1 L180.9,363.3 L181.0,364.5 L181.0,365.7 L181.1,366.9 L181.1,368.1 L181.2,369.3 L181.2,370.5 L181.3,371.7 L181.4,372.9 L181.4,374.1 L181.5,375.4 L181.5,376.6 L181.6,377.8 L181.7,379.0 L181.7,380.2 L181.8,381.4 L181.9,382.6 L181.9,383.8 L182.0,385.0 L182.1,386.2 L182.2,387.4 L182.2,388.6 L182.3,389.8 L182.4,391.0 L182.5,392.2 L182.6,393.4 L182.6,394.6 L182.7,395.8 L182.8,397.0 L182.9,398.2 L183.0,399.4 L183.1,400.6 L183.2,401.8 L183.3,403.0 L183.4,404.2 L183.5,405.4 L183.6,406.6 L183.7,407.8 L183.8,409.0 L184.0,410.2 L184.1,411.4 L184.2,412.6 L184.3,413.8 L184.4,415.0 L184.6,416.2 L184.7,417.4 L184.8,418.6 L184.9,419.8 L185.1,421.0 L185.2,422.2 L185.4,423.4 L185.5,424.6 L185.7,425.8 L185.8,427.0 L186.0,428.2 L186.1,429.4 L186.3,430.6 L186.4,431.8 L186.6,433.0 L186.8,434.2 L186.9,435.4 L187.1,436.6 L187.3,437.7 L187.6,438.9 L187.8,440.1 L188.0,441.3 L188.3,442.4 L188.6,443.6 L188.9,444.8 L189.2,445.9 L189.6,447.0 L190.0,448.2 L190.4,449.3 L190.8,450.4 L191.3,451.5 L191.8,452.6 L192.3,453.7 L192.8,454.8 L193.4,455.9 L194.0,456.9 L194.6,458.0 L195.2,459.0 L195.9,460.1 L196.6,461.1 L197.3,462.1 L198.0,463.1 L198.7,464.1 L199.4,465.1 L200.2,466.1 L201.0,467.0 L201.7,467.9 L202.5,468.9 L203.4,469.8 L204.2,470.6 L205.1,471.5 L205.9,472.4 L206.8,473.2 L207.7,474.0 L208.6,474.8 L209.6,475.5 L210.5,476.3 L211.5,477.0 L212.4,477.7 L213.4,478.4 L214.4,479.0 L215.4,479.7 L216.4,480.3 L217.5,480.9 L218.5,481.5 L219.6,482.1 L220.6,482.6 L221.7,483.1 L222.8,483.6 L223.9,484.1 L225.0,484.6 L226.1,485.1 L227.2,485.5 L228.4,485.9 L229.5,486.3 L230.7,486.7 L231.8,487.0 L233.0,487.4 L234.1,487.7 L235.3,488.0 L236.5,488.3 L237.6,488.6 L238.8,488.8 L240.0,489.0 L241.2,489.3 L242.4,489.5 L243.6,489.6 L244.8,489.8 L246.0,490.0 L247.2,490.1 L248.4,490.2 L249.6,490.4 L250.9,490.5 L252.1,490.6 L253.3,490.7 L254.5,490.8 L255.7,490.8 L256.9,490.9 L258.1,491.0 L259.4,491.1 L260.6,491.1 L261.8,491.2 L263.0,491.2 L264.2,491.3 L265.4,491.4 L266.6,491.4 L267.8,491.5 L269.0,491.6 L270.2,491.6 L271.4,491.7 L272.6,491.8 L273.7,491.9"/>
</g>
<g stroke-width="7" stroke-linecap="round">
<path stroke="#668ACE" d="M527.3,39.5 H615.2"/>
<path stroke="#F0955A" d="M527.3,87.2 H615.2"/>
<path stroke="#B8B8B8" d="M527.3,135.0 H615.2"/>
<path stroke="#FFCA30" d="M527.3,182.8 H615.2"/>
<path stroke="#76ABDD" d="M527.3,230.5 H615.2"/>
</g>
<g font-size="32">
<text x="624.6" y="49.9">Round Hull A</text>
<text x="624.6" y="97.7">Round Hull B</text>
<text x="624.6" y="145.4">Round Hull C</text>
<text x="624.6" y="193.2">Round Hull D</text>
<text x="624.6" y="240.9">Wave Spectra</text>
</g>
</svg></body></html>
